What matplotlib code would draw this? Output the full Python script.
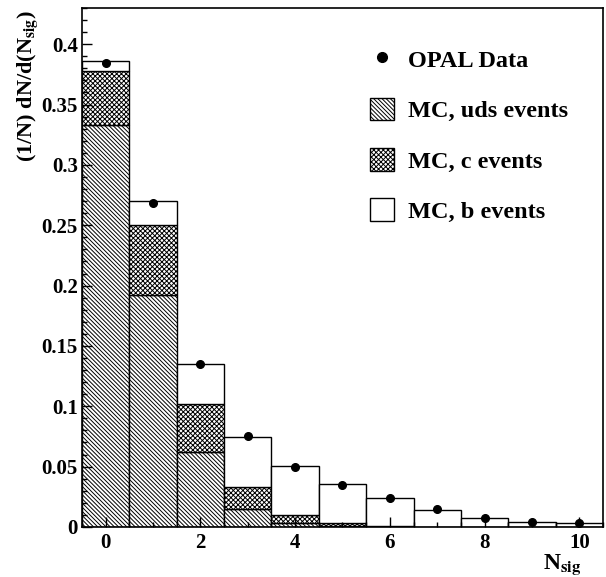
import matplotlib.pyplot as plt
from matplotlib.patches import Patch
from matplotlib.lines import Line2D
from matplotlib.ticker import MultipleLocator, FormatStrFormatter
import numpy as np

plt.rcParams['font.family'] = ['Liberation Serif', 'DejaVu Serif']
plt.rcParams['font.weight'] = 'bold'
plt.rcParams['mathtext.fontset'] = 'stix'
plt.rcParams['hatch.linewidth'] = 0.7

# bin centres (N_sig) and stacked MC contributions
n_sig = np.arange(11)
mc_uds = [0.333, 0.192, 0.062, 0.015, 0.003, 0.001, 0.0003, 0.0, 0.0, 0.0, 0.0]
mc_c = [0.045, 0.058, 0.040, 0.018, 0.007, 0.002, 0.0005, 0.0002, 0.0, 0.0, 0.0]
mc_b = [0.008, 0.020, 0.033, 0.0415, 0.0405, 0.0326, 0.0232, 0.0138, 0.0077, 0.0044, 0.003]
opal_data = [0.384, 0.268, 0.135, 0.075, 0.050, 0.035, 0.024, 0.0146, 0.0077, 0.004, 0.003]

uds_hatch = '\\' * 8
c_hatch = 'x' * 7

fig = plt.figure(figsize=(6.06, 5.77), dpi=100)
ax = fig.add_axes([0.1353, 0.0867, 0.8597, 0.8995])

uds = np.array(mc_uds)
c = np.array(mc_c)
b = np.array(mc_b)

ax.bar(n_sig, uds, width=1, color='white', edgecolor='black', hatch=uds_hatch, lw=1)
ax.bar(n_sig, c, width=1, bottom=uds, color='white', edgecolor='black', hatch=c_hatch, lw=1)
ax.bar(n_sig, b, width=1, bottom=uds + c, color='white', edgecolor='black', lw=1)
ax.plot(n_sig, opal_data, 'o', color='black', ms=5.5)

ax.set_xlim(-0.5, 10.5)
ax.set_ylim(0, 0.43)
ax.xaxis.set_major_locator(MultipleLocator(2))
ax.xaxis.set_minor_locator(MultipleLocator(0.5))
ax.yaxis.set_major_locator(MultipleLocator(0.05))
ax.yaxis.set_minor_locator(MultipleLocator(0.01))
ax.yaxis.set_major_formatter(FormatStrFormatter('%g'))
ax.tick_params(which='both', direction='in', labelsize=15, width=1)
ax.tick_params(which='major', length=7)
ax.tick_params(which='minor', length=3.5)
ax.tick_params(axis='y', pad=3)
ax.tick_params(axis='x', pad=4)
for s in ax.spines.values():
    s.set_linewidth(1.2)

ax.set_xlabel(r'N$_{\mathbf{sig}}$', fontsize=17, fontweight='bold')
ax.xaxis.set_label_coords(0.958, -0.048)
ax.xaxis.label.set_horizontalalignment('right')
ax.xaxis.label.set_verticalalignment('top')
ax.set_ylabel(r'(1/N) dN/d(N$_{\mathbf{sig}}$)', fontsize=16, fontweight='bold')
ax.yaxis.set_label_coords(-0.104, 0.997)
ax.yaxis.label.set_verticalalignment('center')
ax.yaxis.label.set_horizontalalignment('right')

handles = [
    Line2D([], [], marker='o', color='black', ls='none', ms=7),
    Patch(facecolor='white', edgecolor='black', hatch=uds_hatch),
    Patch(facecolor='white', edgecolor='black', hatch=c_hatch),
    Patch(facecolor='white', edgecolor='black'),
]
labels = ['OPAL Data', 'MC, uds events', 'MC, c events', 'MC, b events']
ax.legend(handles, labels, loc='upper left', bbox_to_anchor=(0.553, 0.924),
          frameon=False, handlelength=1.0, handleheight=1.05,
          labelspacing=1.06, handletextpad=0.55, borderpad=0, borderaxespad=0,
          prop={'weight': 'bold', 'size': 17.5})

fig.savefig('out.png', dpi=100)
